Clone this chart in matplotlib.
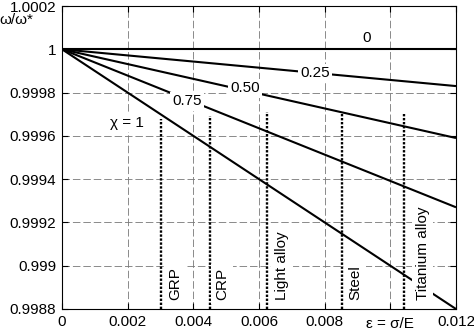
import matplotlib
matplotlib.use("Agg")
import matplotlib.pyplot as plt
import matplotlib.transforms as mtransforms

plt.rcParams['font.family'] = ['Liberation Sans', 'DejaVu Sans']
plt.rcParams['font.size'] = 11

# Frequency ratio vs. strain for several chi values (straight lines from the origin)
eps_span = [0.0, 0.012]
chi_labels = ['0', '0.25', '0.50', '0.75', 'χ = 1']
ratio_start = [1.0, 1.0, 1.0, 1.0, 1.0]
ratio_end = [1.0, 0.99983, 0.99959, 0.99927, 0.9988]

# Positions of the in-line curve labels
chi_label_x = [0.00929, 0.0077, 0.00557, 0.00381, 0.00198]
chi_label_y = [1.000052, 0.99989, 0.99982, 0.99976, 0.99966]

# Allowable strain of typical materials
materials = ['GRP', 'CRP', 'Light alloy', 'Steel', 'Titanium alloy']
material_eps = [0.003, 0.0045, 0.00623, 0.00852, 0.01042]
material_top = [0.99968, 0.99969, 0.99971, 0.99971, 0.9997]
material_label_x = [0.00344, 0.00487, 0.00671, 0.00892, 0.01098]

xticks = [0, 0.002, 0.004, 0.006, 0.008, 0.010, 0.012]
xticklabels = ['0', '0.002', '0.004', '0.006', '0.008', 'ε = σ/E', '0.012']
yticks = [0.9988, 0.9990, 0.9992, 0.9994, 0.9996, 0.9998, 1.0, 1.0002]
yticklabels = ['0.9988', '0.999', '0.9992', '0.9994', '0.9996', '0.9998', '1', '1.0002']

fig = plt.figure(figsize=(4.74, 3.31), dpi=100)
ax = fig.add_axes([62 / 474, 1 - 309 / 331, (456 - 62) / 474, (309 - 6) / 331])

ax.set_xlim(0, 0.012)
ax.set_ylim(0.9988, 1.0002)

ax.grid(True, color='#777777', linewidth=0.6, linestyle=(0, (9, 3.5)), zorder=0)
ax.set_axisbelow(True)

for y0, y1 in zip(ratio_start, ratio_end):
    ax.plot(eps_span, [y0, y1], color='black', linewidth=1.5, zorder=3,
            solid_capstyle='butt')

for i, (lab, lx, ly) in enumerate(zip(chi_labels, chi_label_x, chi_label_y)):
    box = None
    if i > 0:
        box = dict(boxstyle='square,pad=0.15', facecolor='white', edgecolor='none')
    ax.text(lx, ly, lab, ha='center', va='center', fontsize=11, zorder=5, bbox=box)

for name, ex, top, lx in zip(materials, material_eps, material_top, material_label_x):
    ax.plot([ex, ex], [0.9988, top], color='black', linewidth=1.7,
            linestyle=(0, (1, 0.7)), zorder=4)
    ax.text(lx, 0.99884, name, rotation=90, ha='center', va='bottom', fontsize=11,
            zorder=5,
            bbox=dict(boxstyle='square,pad=0.25', facecolor='white', edgecolor='none'))

ax.set_xticks(xticks)
ax.set_xticklabels(xticklabels)
ax.set_yticks(yticks)
ax.set_yticklabels(yticklabels)
ax.tick_params(direction='in', length=4, width=0.8, top=True, right=True,
               labelsize=11, pad=4)

# nudge the axis-name label that sits in the 0.01 tick slot slightly lower
offset = mtransforms.ScaledTranslation(0, -1.5 / 72, fig.dpi_scale_trans)
for t in ax.get_xticklabels():
    if t.get_text().startswith('ε'):
        t.set_transform(t.get_transform() + offset)

for sp in ax.spines.values():
    sp.set_linewidth(0.8)

fig.text(33 / 474, 1 - 20 / 331, 'ω/ω*', ha='right', va='center', fontsize=11)

fig.savefig('out.png', dpi=100)
